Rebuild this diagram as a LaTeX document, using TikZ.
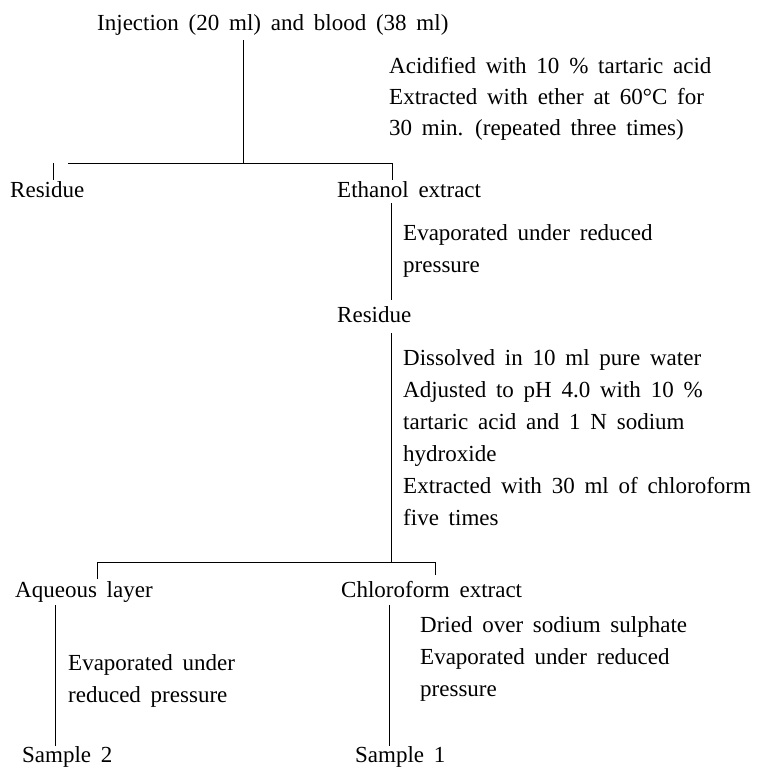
\documentclass[tikz,border=0pt]{standalone}
\usepackage{fontspec}
\setmainfont{Liberation Serif}[WordSpace=1.7]
\begin{document}
\begin{tikzpicture}[x=1pt,y=-1pt,
  txt/.style={anchor=base west,inner sep=0pt,font=\fontsize{23}{33}\selectfont},
  ln/.style={line width=0.7pt,black}]
\useasboundingbox (0,0) rectangle (762,769);
% texts
\node[txt] (inj) at (97,30) {Injection (20 ml) and blood (38 ml)};
\node[txt] (c1a) at (389,73) {Acidified with 10 \% tartaric acid};
\node[txt] (c1b) at (389,104) {Extracted with ether at 60\textdegree C for};
\node[txt] (c1c) at (389,135) {30 min. (repeated three times)};
\node[txt] (res1) at (10,197) {Residue};
\node[txt] (eth) at (337,197) {Ethanol extract};
\node[txt] (c2a) at (403,240) {Evaporated under reduced};
\node[txt] (c2b) at (403,272) {pressure};
\node[txt] (res2) at (337,322) {Residue};
\node[txt] (c3a) at (403,365) {Dissolved in 10 ml pure water};
\node[txt] (c3b) at (403,397) {Adjusted to pH 4.0 with 10 \%};
\node[txt] (c3c) at (403,429) {tartaric acid and 1 N sodium};
\node[txt] (c3d) at (403,461) {hydroxide};
\node[txt] (c3e) at (403,493) {Extracted with 30 ml of chloroform};
\node[txt] (c3f) at (403,525) {five times};
\node[txt] (aq) at (15,597) {Aqueous layer};
\node[txt] (chl) at (341,597) {Chloroform extract};
\node[txt] (c4a) at (68,670) {Evaporated under};
\node[txt] (c4b) at (68,702) {reduced pressure};
\node[txt] (c5a) at (420,632) {Dried over sodium sulphate};
\node[txt] (c5b) at (420,664) {Evaporated under reduced};
\node[txt] (c5c) at (420,696) {pressure};
\node[txt] (s2) at (22,762) {Sample 2};
\node[txt] (s1) at (355,762) {Sample 1};
% junction coordinates
\coordinate (j1top) at (243,40);
\coordinate (j1) at (243,163);
\coordinate (j1l) at (68,163);
\coordinate (j1r) at (392,163);
\coordinate (t1l) at (53,163);
\coordinate (t1lb) at (53,180);
\coordinate (t1rb) at (392,180);
\coordinate (e1) at (391,203);
\coordinate (e2) at (391,300);
\coordinate (r1) at (391,333);
\coordinate (j2) at (391,562);
\coordinate (j2l) at (97,562);
\coordinate (j2r) at (435,562);
\coordinate (t2lb) at (97,579);
\coordinate (t2rb) at (435,575);
\coordinate (a1) at (55,605);
\coordinate (a2) at (55,746);
\coordinate (b1) at (389,605);
\coordinate (b2) at (389,746);
% connectors
\draw[ln] (j1top) -- (j1);
\draw[ln] (j1l) -- (j1r) -- (t1rb);
\draw[ln] (t1l) -- (t1lb);
\draw[ln] (e1) -- (e2);
\draw[ln] (r1) -- (j2);
\draw[ln] (t2lb) -- (j2l) -- (j2r) -- (t2rb);
\draw[ln] (a1) -- (a2);
\draw[ln] (b1) -- (b2);
\end{tikzpicture}
\end{document}
